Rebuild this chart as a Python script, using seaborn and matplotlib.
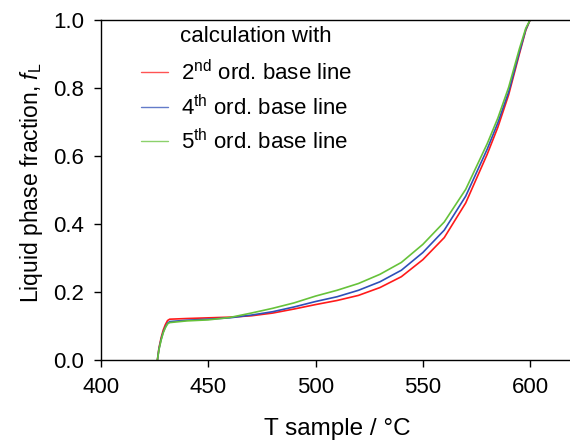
import matplotlib
matplotlib.use("Agg")
import matplotlib.pyplot as plt
import seaborn as sns
import pandas as pd

# Data
temps = [426.3, 427, 428, 429, 430, 431, 432, 440, 450, 460, 470, 480, 490, 500,
         510, 520, 530, 540, 550, 560, 570, 580, 585, 590, 595, 598, 600]
f_2nd = [0.0, 0.035, 0.065, 0.088, 0.104, 0.116, 0.120, 0.122, 0.124, 0.126, 0.130,
         0.138, 0.150, 0.163, 0.175, 0.190, 0.213, 0.245, 0.295, 0.360, 0.462, 0.605,
         0.685, 0.780, 0.900, 0.970, 1.0]
f_4th = [0.0, 0.032, 0.060, 0.082, 0.097, 0.108, 0.113, 0.117, 0.120, 0.124, 0.132,
         0.142, 0.156, 0.172, 0.186, 0.205, 0.230, 0.264, 0.316, 0.382, 0.482, 0.620,
         0.698, 0.788, 0.905, 0.972, 1.0]
f_5th = [0.0, 0.030, 0.058, 0.080, 0.095, 0.106, 0.110, 0.115, 0.118, 0.125, 0.138,
         0.152, 0.168, 0.188, 0.205, 0.225, 0.252, 0.287, 0.340, 0.406, 0.502, 0.636,
         0.712, 0.802, 0.915, 0.976, 1.0]
labels = [r"2$^{\mathrm{nd}}$ ord. base line",
          r"4$^{\mathrm{th}}$ ord. base line",
          r"5$^{\mathrm{th}}$ ord. base line"]
legend_title = "calculation with"
colors = ["#ff1a1a", "#2f4fb8", "#66c23a"]

rows = []
for lab, ys in zip(labels, [f_2nd, f_4th, f_5th]):
    for t, y in zip(temps, ys):
        rows.append({"T": t, "f": y, "series": lab})
df = pd.DataFrame(rows)

sns.set_style("ticks")
plt.rcParams["font.family"] = ["Liberation Sans", "DejaVu Sans"]
plt.rcParams["mathtext.fontset"] = "custom"
plt.rcParams["mathtext.rm"] = "Liberation Sans"
plt.rcParams["mathtext.it"] = "Liberation Sans:italic"
plt.rcParams["text.color"] = "black"
plt.rcParams["axes.labelcolor"] = "black"
plt.rcParams["xtick.color"] = "black"
plt.rcParams["ytick.color"] = "black"

W, H = 570, 444
fig = plt.figure(figsize=(W / 100, H / 100), dpi=100)
ax = fig.add_axes([101 / W, 84 / H, 472 / W, 340 / H])

sns.lineplot(data=df, x="T", y="f", hue="series", palette=colors, hue_order=labels,
             estimator=None, sort=True, linewidth=1.2, ax=ax)

ax.set_xlim(400, 620)
ax.set_ylim(0, 1.0)
ax.set_xticks([400, 450, 500, 550, 600])
ax.set_yticks([0.0, 0.2, 0.4, 0.6, 0.8, 1.0])
ax.set_yticklabels(["0.0", "0.2", "0.4", "0.6", "0.8", "1.0"])
ax.tick_params(direction="out", length=5, width=1, labelsize=16, pad=7, colors="black")
for s in ax.spines.values():
    s.set_color("black")
    s.set_linewidth(1.0)

ax.set_xlabel("T sample / °C", fontsize=17.5, color="black")
ax.xaxis.set_label_coords(337.5 / W, 1 - 418 / H, transform=fig.transFigure)
ax.set_ylabel(r"Liquid phase fraction, $f_{\mathrm{L}}$", fontsize=16.5, color="black")
ax.yaxis.set_label_coords(45 / W, 1 - 183 / H, transform=fig.transFigure)

leg = ax.legend(loc="upper left",
                bbox_to_anchor=(141 / W, 1 - 60 / H), bbox_transform=fig.transFigure,
                frameon=False, fontsize=16,
                handlelength=1.2, handletextpad=0.6, labelspacing=0.42,
                borderaxespad=0, borderpad=0)
for ln in leg.get_lines():
    ln.set_linewidth(1.0)
    ln.set_alpha(0.75)
for t in leg.get_texts():
    t.set_color("black")
fig.text(180 / W, 1 - 36 / H, legend_title, fontsize=16, ha="left", va="center",
         color="black")

fig.savefig("out.png", dpi=100)
